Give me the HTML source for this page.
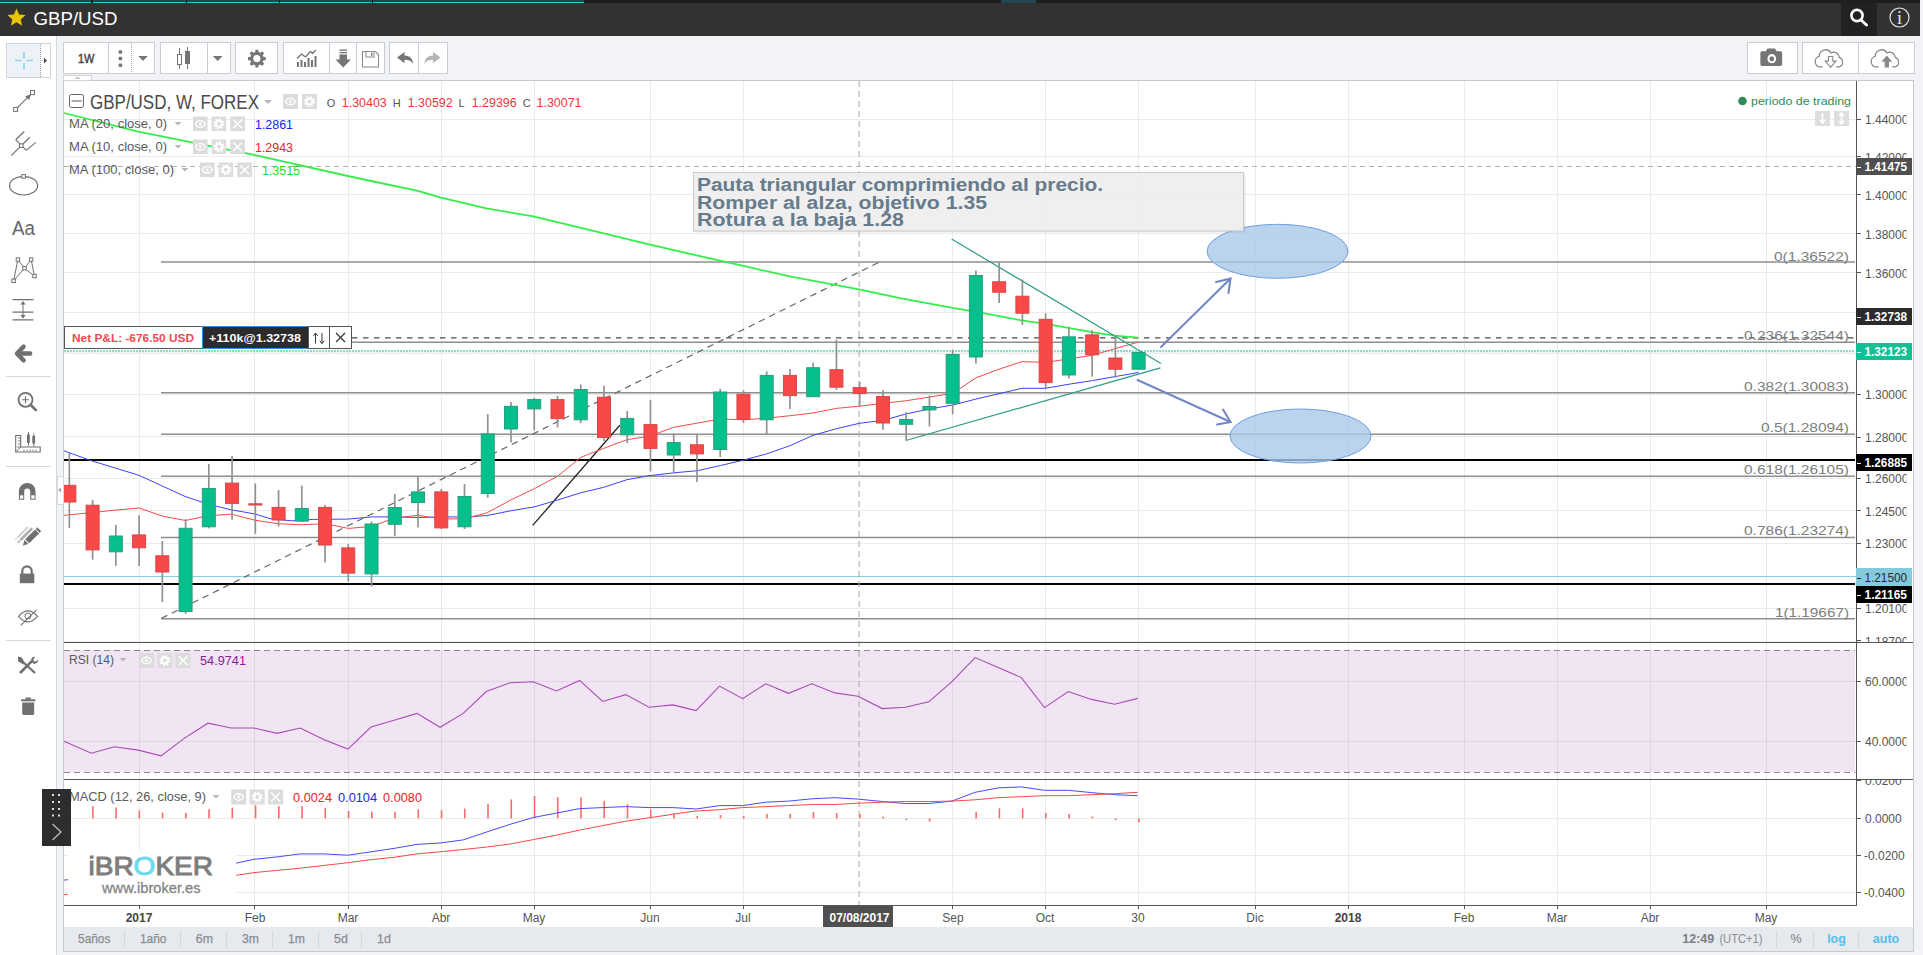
<!DOCTYPE html>
<html lang="es"><head><meta charset="utf-8"><title>GBP/USD</title>
<style>
html,body{margin:0;padding:0;}
body{width:1923px;height:955px;overflow:hidden;background:#f1f3f6;font-family:"Liberation Sans",sans-serif;position:relative;}
#hdr{position:absolute;left:0;top:0;width:1920px;height:36px;background:#323232;}
#hdrtop{position:absolute;left:0;top:0;width:1920px;height:3px;background:#1e1e1e;}
#srch{position:absolute;left:1841px;top:3px;width:36px;height:33px;background:#212121;}
#ltb{position:absolute;left:0;top:36px;width:56px;height:919px;background:#ffffff;border-right:1px solid #d6d9de;}
#frame{position:absolute;left:63px;top:80px;width:1849px;height:870px;background:#ffffff;border:1px solid #c6cad0;}
#bbar{position:absolute;left:64px;top:927px;width:1849px;height:24px;background:#e6e9ed;}
#ov{position:absolute;left:0;top:0;}
svg text{font-family:"Liberation Sans",sans-serif;}
.btn{position:absolute;top:42px;height:30px;background:#fff;border:1px solid #c9ccd1;}
</style></head><body>
<div id="hdr"></div><div id="hdrtop"></div><div id="srch"></div><div id="ltb"></div><div id="frame"></div><div id="bbar"></div>
<div class="btn" style="left:63px;width:90px"></div>
<div class="btn" style="left:160px;width:69px"></div>
<div class="btn" style="left:235px;width:41px"></div>
<div class="btn" style="left:283px;width:100px"></div>
<div class="btn" style="left:389px;width:57px"></div>
<div class="btn" style="left:1747px;width:49px"></div>
<div class="btn" style="left:1802px;width:111px"></div>
<svg id="ov" width="1923" height="955" viewBox="0 0 1923 955">
<rect x="0" y="0" width="91" height="2" fill="#24464e"/>
<rect x="0" y="2" width="91" height="1" fill="#2cc3df"/>
<rect x="93" y="0" width="93" height="2" fill="#24464e"/>
<rect x="93" y="2" width="93" height="1" fill="#2cc3df"/>
<rect x="187" y="0" width="92" height="2" fill="#24464e"/>
<rect x="187" y="2" width="92" height="1" fill="#2cc3df"/>
<rect x="280" y="0" width="92" height="2" fill="#24464e"/>
<rect x="280" y="2" width="92" height="1" fill="#2cc3df"/>
<rect x="373" y="0" width="211" height="2" fill="#24464e"/>
<rect x="373" y="2" width="211" height="1" fill="#2cc3df"/>
<rect x="1001" y="0" width="35" height="3" fill="#24464e"/>
<path d="M16.5 8.5 l2.6 6 6.5 .6 -4.9 4.3 1.5 6.3 -5.7 -3.4 -5.7 3.4 1.5 -6.3 -4.9 -4.3 6.5 -.6z" fill="#e8c500"/>
<text x="33.5" y="25" font-size="18.5" fill="#ffffff" font-weight="normal" text-anchor="start" textLength="84" lengthAdjust="spacingAndGlyphs" >GBP/USD</text>
<circle cx="1857" cy="15.5" r="5.6" fill="none" stroke="#fff" stroke-width="2.6"/><line x1="1861" y1="20" x2="1866.5" y2="25" stroke="#fff" stroke-width="3" stroke-linecap="round"/>
<circle cx="1899.5" cy="17.5" r="9.5" fill="none" stroke="#e0e0e0" stroke-width="1.2"/>
<text x="1899.5" y="24" font-size="18" fill="#e8e8e8" text-anchor="middle" style="font-family:'Liberation Serif',serif">i</text>
<g shape-rendering="crispEdges">
<line x1="139.5" y1="81" x2="139.5" y2="905" stroke="#ebebeb" stroke-width="1" />
<line x1="254.5" y1="81" x2="254.5" y2="905" stroke="#ebebeb" stroke-width="1" />
<line x1="348.5" y1="81" x2="348.5" y2="905" stroke="#ebebeb" stroke-width="1" />
<line x1="441.5" y1="81" x2="441.5" y2="905" stroke="#ebebeb" stroke-width="1" />
<line x1="534.5" y1="81" x2="534.5" y2="905" stroke="#ebebeb" stroke-width="1" />
<line x1="650.5" y1="81" x2="650.5" y2="905" stroke="#ebebeb" stroke-width="1" />
<line x1="743.5" y1="81" x2="743.5" y2="905" stroke="#ebebeb" stroke-width="1" />
<line x1="952.5" y1="81" x2="952.5" y2="905" stroke="#ebebeb" stroke-width="1" />
<line x1="1045.5" y1="81" x2="1045.5" y2="905" stroke="#ebebeb" stroke-width="1" />
<line x1="1138.5" y1="81" x2="1138.5" y2="905" stroke="#ebebeb" stroke-width="1" />
<line x1="1255.5" y1="81" x2="1255.5" y2="905" stroke="#ebebeb" stroke-width="1" />
<line x1="1348.5" y1="81" x2="1348.5" y2="905" stroke="#ebebeb" stroke-width="1" />
<line x1="1464.5" y1="81" x2="1464.5" y2="905" stroke="#ebebeb" stroke-width="1" />
<line x1="1557.5" y1="81" x2="1557.5" y2="905" stroke="#ebebeb" stroke-width="1" />
<line x1="1650.5" y1="81" x2="1650.5" y2="905" stroke="#ebebeb" stroke-width="1" />
<line x1="1766.5" y1="81" x2="1766.5" y2="905" stroke="#ebebeb" stroke-width="1" />
<line x1="64" y1="119.5" x2="1856" y2="119.5" stroke="#ebebeb" stroke-width="1" />
<line x1="64" y1="156.5" x2="1856" y2="156.5" stroke="#ebebeb" stroke-width="1" />
<line x1="64" y1="194.5" x2="1856" y2="194.5" stroke="#ebebeb" stroke-width="1" />
<line x1="64" y1="233.5" x2="1856" y2="233.5" stroke="#ebebeb" stroke-width="1" />
<line x1="64" y1="272.5" x2="1856" y2="272.5" stroke="#ebebeb" stroke-width="1" />
<line x1="64" y1="312.5" x2="1856" y2="312.5" stroke="#ebebeb" stroke-width="1" />
<line x1="64" y1="353.5" x2="1856" y2="353.5" stroke="#ebebeb" stroke-width="1" />
<line x1="64" y1="394.5" x2="1856" y2="394.5" stroke="#ebebeb" stroke-width="1" />
<line x1="64" y1="436.5" x2="1856" y2="436.5" stroke="#ebebeb" stroke-width="1" />
<line x1="64" y1="478.5" x2="1856" y2="478.5" stroke="#ebebeb" stroke-width="1" />
<line x1="64" y1="510.5" x2="1856" y2="510.5" stroke="#ebebeb" stroke-width="1" />
<line x1="64" y1="543.5" x2="1856" y2="543.5" stroke="#ebebeb" stroke-width="1" />
<line x1="64" y1="576.5" x2="1856" y2="576.5" stroke="#ebebeb" stroke-width="1" />
<line x1="64" y1="608.5" x2="1856" y2="608.5" stroke="#ebebeb" stroke-width="1" />
<line x1="64" y1="641.5" x2="1856" y2="641.5" stroke="#ebebeb" stroke-width="1" />
<rect x="64" y="650" width="1791" height="122" fill="#f1e5f3"/>
<line x1="139.5" y1="650" x2="139.5" y2="772" stroke="#e0d3e3" stroke-width="1" />
<line x1="254.5" y1="650" x2="254.5" y2="772" stroke="#e0d3e3" stroke-width="1" />
<line x1="348.5" y1="650" x2="348.5" y2="772" stroke="#e0d3e3" stroke-width="1" />
<line x1="441.5" y1="650" x2="441.5" y2="772" stroke="#e0d3e3" stroke-width="1" />
<line x1="534.5" y1="650" x2="534.5" y2="772" stroke="#e0d3e3" stroke-width="1" />
<line x1="650.5" y1="650" x2="650.5" y2="772" stroke="#e0d3e3" stroke-width="1" />
<line x1="743.5" y1="650" x2="743.5" y2="772" stroke="#e0d3e3" stroke-width="1" />
<line x1="952.5" y1="650" x2="952.5" y2="772" stroke="#e0d3e3" stroke-width="1" />
<line x1="1045.5" y1="650" x2="1045.5" y2="772" stroke="#e0d3e3" stroke-width="1" />
<line x1="1138.5" y1="650" x2="1138.5" y2="772" stroke="#e0d3e3" stroke-width="1" />
<line x1="1255.5" y1="650" x2="1255.5" y2="772" stroke="#e0d3e3" stroke-width="1" />
<line x1="1348.5" y1="650" x2="1348.5" y2="772" stroke="#e0d3e3" stroke-width="1" />
<line x1="1464.5" y1="650" x2="1464.5" y2="772" stroke="#e0d3e3" stroke-width="1" />
<line x1="1557.5" y1="650" x2="1557.5" y2="772" stroke="#e0d3e3" stroke-width="1" />
<line x1="1650.5" y1="650" x2="1650.5" y2="772" stroke="#e0d3e3" stroke-width="1" />
<line x1="1766.5" y1="650" x2="1766.5" y2="772" stroke="#e0d3e3" stroke-width="1" />
<line x1="64" y1="681.5" x2="1856" y2="681.5" stroke="#e0d3e3" stroke-width="1" />
<line x1="64" y1="741.5" x2="1856" y2="741.5" stroke="#e0d3e3" stroke-width="1" />
<line x1="64" y1="818.5" x2="1856" y2="818.5" stroke="#ebebeb" stroke-width="1" />
<line x1="64" y1="855.5" x2="1856" y2="855.5" stroke="#ebebeb" stroke-width="1" />
<line x1="64" y1="892.5" x2="1856" y2="892.5" stroke="#ebebeb" stroke-width="1" />
</g>
<g shape-rendering="crispEdges">
<line x1="64" y1="166.5" x2="1856" y2="166.5" stroke="#b0b0b0" stroke-width="1" stroke-dasharray="5,4"/>
<line x1="161" y1="261.9" x2="1855" y2="261.9" stroke="#8e8e8e" stroke-width="1.5" shape-rendering="auto"/>
<line x1="161" y1="342.3" x2="1855" y2="342.3" stroke="#8e8e8e" stroke-width="1.5" shape-rendering="auto"/>
<line x1="161" y1="392.8" x2="1855" y2="392.8" stroke="#8e8e8e" stroke-width="1.5" shape-rendering="auto"/>
<line x1="161" y1="434.2" x2="1855" y2="434.2" stroke="#8e8e8e" stroke-width="1.5" shape-rendering="auto"/>
<line x1="161" y1="476.3" x2="1855" y2="476.3" stroke="#8e8e8e" stroke-width="1.5" shape-rendering="auto"/>
<line x1="161" y1="537.5" x2="1855" y2="537.5" stroke="#8e8e8e" stroke-width="1.5" shape-rendering="auto"/>
<line x1="161" y1="618.7" x2="1855" y2="618.7" stroke="#8e8e8e" stroke-width="1.5" shape-rendering="auto"/>
<line x1="64" y1="576.5" x2="1856" y2="576.5" stroke="#86cfe0" stroke-width="1" />
<line x1="64" y1="460" x2="1855" y2="460" stroke="#000" stroke-width="2" />
<line x1="64" y1="584" x2="1855" y2="584" stroke="#000" stroke-width="2" />
<line x1="352" y1="337.8" x2="1855" y2="337.8" stroke="#4a4a4a" stroke-width="1.3" stroke-dasharray="5.5,5.5" shape-rendering="auto"/>
<line x1="64" y1="351.2" x2="1855" y2="351.2" stroke="#5fd3b6" stroke-width="2.2" stroke-dasharray="2,1" shape-rendering="auto" opacity="0.75"/>
<line x1="859.1" y1="81" x2="859.1" y2="905" stroke="#b0b0b0" stroke-width="1.1" stroke-dasharray="6,4" shape-rendering="auto"/>
</g>
<line x1="161.5" y1="618.3" x2="879.5" y2="262" stroke="#666" stroke-width="1.2" stroke-dasharray="6.5,5"/>
<line x1="532.7" y1="525.4" x2="619.8" y2="425.2" stroke="#222" stroke-width="1.3"/>
<polyline points="64.0,113.0 138.3,131.7 254.0,154.9 347.9,176.0 371.0,181.0 417.0,190.6 440.0,197.4 486.3,208.3 533.3,216.4 602.7,233.1 649.0,244.3 700.0,256.2 743.4,265.9 791.0,276.7 859.0,289.3 900.0,298.1 952.6,307.9 976.4,311.8 1021.3,320.3 1044.5,323.7 1068.3,327.8 1091.4,332.2 1114.6,335.6 1137.7,337.7" fill="none" stroke="#35ee4a" stroke-width="1.8" stroke-linejoin="round"/>
<polyline points="64.0,450.8 90.0,460.3 139.0,475.3 185.2,496.5 208.7,504.4 231.8,509.9 255.0,514.0 271.0,518.9 291.4,520.8 313.2,519.4 348.3,519.1 371.5,516.9 394.6,516.9 417.7,517.5 440.9,516.9 464.0,517.0 486.9,515.6 511.1,510.7 534.3,506.9 557.4,500.1 580.6,492.8 603.7,487.3 626.9,479.7 650.0,475.6 673.2,472.9 697.4,470.7 720.5,465.5 743.7,460.1 766.8,453.8 790.0,445.7 813.1,435.3 836.2,428.8 859.4,423.3 883.3,420.3 906.5,413.8 929.6,409.0 952.8,405.0 975.8,399.1 999.0,393.7 1022.1,388.3 1045.3,388.3 1069.2,384.2 1092.4,380.6 1115.5,376.5 1138.6,372.5" fill="none" stroke="#4040f5" stroke-width="1" />
<polyline points="64.0,515.3 91.9,512.6 115.3,510.1 139.2,508.0 162.4,516.1 185.5,520.5 208.7,515.6 231.8,514.2 254.9,520.2 278.1,523.7 301.2,524.8 325.2,523.7 348.3,528.4 371.5,526.5 394.6,518.0 417.7,515.3 440.9,518.9 464.0,518.9 486.9,512.9 511.1,499.8 534.3,488.7 557.4,476.4 580.6,457.4 603.7,448.4 626.9,439.7 650.0,436.1 673.2,427.4 697.4,423.1 720.5,419.0 743.7,419.8 766.8,418.2 790.0,415.7 813.1,413.0 836.2,408.4 859.4,406.2 883.3,403.3 906.5,400.7 929.6,397.0 952.8,393.4 975.8,377.9 999.0,369.2 1022.1,361.6 1045.3,362.4 1069.2,358.9 1092.4,355.3 1115.5,348.5 1138.6,342.0" fill="none" stroke="#f54a4a" stroke-width="1" />
<line x1="951.6" y1="239" x2="1161" y2="363.5" stroke="#2e9b84" stroke-width="1.2"/>
<line x1="905.9" y1="440.5" x2="1160.4" y2="367.8" stroke="#2e9b84" stroke-width="1.2"/>
<ellipse cx="1277.5" cy="251.3" rx="70.5" ry="27" fill="#a9c9ea" fill-opacity="0.8" stroke="#6f9fe0" stroke-width="1"/>
<ellipse cx="1300.5" cy="436" rx="70.5" ry="27" fill="#a9c9ea" fill-opacity="0.8" stroke="#6f9fe0" stroke-width="1"/>
<g stroke="#7186c4" stroke-width="2" fill="none" stroke-linecap="round"><line x1="1161" y1="347" x2="1230.5" y2="278.5"/><polyline points="1216,282 1230.5,278.5 1228.5,293"/>
<line x1="1137.5" y1="380" x2="1230.5" y2="422"/><polyline points="1223,409.5 1230.5,422 1217,424.5"/></g>
<clipPath id="mp"><rect x="64" y="81" width="1791" height="561"/></clipPath><g clip-path="url(#mp)">
<line x1="69.35" y1="452.0" x2="69.35" y2="528.0" stroke="#929292" stroke-width="1.7"/>
<rect x="62.85" y="485.3" width="13" height="16.7" fill="#f84848" stroke="#d8474b" stroke-width="1"/>
<line x1="92.60" y1="499.8" x2="92.60" y2="559.7" stroke="#929292" stroke-width="1.7"/>
<rect x="86.10" y="505.2" width="13" height="44.7" fill="#f84848" stroke="#d8474b" stroke-width="1"/>
<line x1="115.84" y1="525.0" x2="115.84" y2="566.0" stroke="#929292" stroke-width="1.7"/>
<rect x="109.34" y="536.0" width="13" height="15.8" fill="#05c08c" stroke="#2a9f7e" stroke-width="1"/>
<line x1="139.09" y1="515.3" x2="139.09" y2="566.0" stroke="#929292" stroke-width="1.7"/>
<rect x="132.59" y="534.9" width="13" height="12.9" fill="#f84848" stroke="#d8474b" stroke-width="1"/>
<line x1="162.33" y1="541.0" x2="162.33" y2="602.0" stroke="#929292" stroke-width="1.7"/>
<rect x="155.83" y="555.8" width="13" height="16.2" fill="#f84848" stroke="#d8474b" stroke-width="1"/>
<line x1="185.58" y1="519.0" x2="185.58" y2="614.0" stroke="#929292" stroke-width="1.7"/>
<rect x="179.08" y="528.3" width="13" height="83.2" fill="#05c08c" stroke="#2a9f7e" stroke-width="1"/>
<line x1="208.82" y1="463.9" x2="208.82" y2="528.4" stroke="#929292" stroke-width="1.7"/>
<rect x="202.32" y="488.5" width="13" height="38.3" fill="#05c08c" stroke="#2a9f7e" stroke-width="1"/>
<line x1="232.07" y1="456.0" x2="232.07" y2="519.7" stroke="#929292" stroke-width="1.7"/>
<rect x="225.57" y="483.1" width="13" height="20.3" fill="#f84848" stroke="#d8474b" stroke-width="1"/>
<line x1="255.31" y1="483.5" x2="255.31" y2="533.8" stroke="#929292" stroke-width="1.7"/>
<rect x="248.81" y="503.8" width="13" height="1.2" fill="#f84848" stroke="#d8474b" stroke-width="1"/>
<line x1="278.56" y1="490.0" x2="278.56" y2="526.5" stroke="#929292" stroke-width="1.7"/>
<rect x="272.06" y="507.4" width="13" height="12.6" fill="#f84848" stroke="#d8474b" stroke-width="1"/>
<line x1="301.80" y1="485.6" x2="301.80" y2="522.0" stroke="#929292" stroke-width="1.7"/>
<rect x="295.30" y="508.5" width="13" height="12.6" fill="#05c08c" stroke="#2a9f7e" stroke-width="1"/>
<line x1="325.05" y1="505.0" x2="325.05" y2="562.4" stroke="#929292" stroke-width="1.7"/>
<rect x="318.55" y="507.4" width="13" height="37.6" fill="#f84848" stroke="#d8474b" stroke-width="1"/>
<line x1="348.29" y1="544.0" x2="348.29" y2="581.5" stroke="#929292" stroke-width="1.7"/>
<rect x="341.79" y="547.9" width="13" height="25.2" fill="#f84848" stroke="#d8474b" stroke-width="1"/>
<line x1="371.53" y1="521.6" x2="371.53" y2="586.4" stroke="#929292" stroke-width="1.7"/>
<rect x="365.03" y="524.0" width="13" height="49.9" fill="#05c08c" stroke="#2a9f7e" stroke-width="1"/>
<line x1="394.78" y1="494.0" x2="394.78" y2="536.0" stroke="#929292" stroke-width="1.7"/>
<rect x="388.28" y="507.5" width="13" height="16.8" fill="#05c08c" stroke="#2a9f7e" stroke-width="1"/>
<line x1="418.02" y1="476.6" x2="418.02" y2="527.6" stroke="#929292" stroke-width="1.7"/>
<rect x="411.52" y="491.9" width="13" height="10.6" fill="#05c08c" stroke="#2a9f7e" stroke-width="1"/>
<line x1="441.27" y1="489.0" x2="441.27" y2="529.0" stroke="#929292" stroke-width="1.7"/>
<rect x="434.77" y="491.9" width="13" height="36.0" fill="#f84848" stroke="#d8474b" stroke-width="1"/>
<line x1="464.51" y1="484.0" x2="464.51" y2="529.0" stroke="#929292" stroke-width="1.7"/>
<rect x="458.01" y="496.5" width="13" height="30.3" fill="#05c08c" stroke="#2a9f7e" stroke-width="1"/>
<line x1="487.76" y1="414.0" x2="487.76" y2="497.6" stroke="#929292" stroke-width="1.7"/>
<rect x="481.26" y="433.9" width="13" height="59.6" fill="#05c08c" stroke="#2a9f7e" stroke-width="1"/>
<line x1="511.00" y1="402.0" x2="511.00" y2="442.5" stroke="#929292" stroke-width="1.7"/>
<rect x="504.50" y="406.3" width="13" height="22.7" fill="#05c08c" stroke="#2a9f7e" stroke-width="1"/>
<line x1="534.25" y1="397.6" x2="534.25" y2="430.4" stroke="#929292" stroke-width="1.7"/>
<rect x="527.75" y="399.5" width="13" height="9.4" fill="#05c08c" stroke="#2a9f7e" stroke-width="1"/>
<line x1="557.50" y1="395.8" x2="557.50" y2="427.4" stroke="#929292" stroke-width="1.7"/>
<rect x="551.00" y="399.6" width="13" height="19.1" fill="#f84848" stroke="#d8474b" stroke-width="1"/>
<line x1="580.74" y1="384.4" x2="580.74" y2="423.0" stroke="#929292" stroke-width="1.7"/>
<rect x="574.24" y="389.5" width="13" height="30.3" fill="#05c08c" stroke="#2a9f7e" stroke-width="1"/>
<line x1="603.99" y1="385.8" x2="603.99" y2="441.0" stroke="#929292" stroke-width="1.7"/>
<rect x="597.49" y="397.2" width="13" height="40.3" fill="#f84848" stroke="#d8474b" stroke-width="1"/>
<line x1="627.23" y1="411.0" x2="627.23" y2="443.0" stroke="#929292" stroke-width="1.7"/>
<rect x="620.73" y="418.4" width="13" height="16.4" fill="#05c08c" stroke="#2a9f7e" stroke-width="1"/>
<line x1="650.48" y1="400.2" x2="650.48" y2="471.5" stroke="#929292" stroke-width="1.7"/>
<rect x="643.98" y="424.6" width="13" height="23.8" fill="#f84848" stroke="#d8474b" stroke-width="1"/>
<line x1="673.72" y1="433.4" x2="673.72" y2="472.3" stroke="#929292" stroke-width="1.7"/>
<rect x="667.22" y="442.6" width="13" height="12.4" fill="#05c08c" stroke="#2a9f7e" stroke-width="1"/>
<line x1="696.97" y1="434.8" x2="696.97" y2="481.9" stroke="#929292" stroke-width="1.7"/>
<rect x="690.47" y="444.8" width="13" height="9.1" fill="#f84848" stroke="#d8474b" stroke-width="1"/>
<line x1="720.21" y1="388.8" x2="720.21" y2="457.0" stroke="#929292" stroke-width="1.7"/>
<rect x="713.71" y="392.0" width="13" height="57.5" fill="#05c08c" stroke="#2a9f7e" stroke-width="1"/>
<line x1="743.46" y1="390.4" x2="743.46" y2="423.0" stroke="#929292" stroke-width="1.7"/>
<rect x="736.96" y="394.2" width="13" height="25.1" fill="#f84848" stroke="#d8474b" stroke-width="1"/>
<line x1="766.70" y1="371.3" x2="766.70" y2="434.0" stroke="#929292" stroke-width="1.7"/>
<rect x="760.20" y="375.4" width="13" height="44.4" fill="#05c08c" stroke="#2a9f7e" stroke-width="1"/>
<line x1="789.95" y1="368.9" x2="789.95" y2="408.9" stroke="#929292" stroke-width="1.7"/>
<rect x="783.45" y="375.4" width="13" height="20.2" fill="#f84848" stroke="#d8474b" stroke-width="1"/>
<line x1="813.19" y1="362.6" x2="813.19" y2="397.2" stroke="#929292" stroke-width="1.7"/>
<rect x="806.69" y="367.7" width="13" height="29.0" fill="#05c08c" stroke="#2a9f7e" stroke-width="1"/>
<line x1="836.44" y1="339.5" x2="836.44" y2="389.8" stroke="#929292" stroke-width="1.7"/>
<rect x="829.94" y="369.7" width="13" height="17.5" fill="#f84848" stroke="#d8474b" stroke-width="1"/>
<line x1="859.68" y1="381.7" x2="859.68" y2="406.7" stroke="#929292" stroke-width="1.7"/>
<rect x="853.18" y="387.6" width="13" height="5.8" fill="#f84848" stroke="#d8474b" stroke-width="1"/>
<line x1="882.93" y1="390.0" x2="882.93" y2="429.8" stroke="#929292" stroke-width="1.7"/>
<rect x="876.43" y="396.5" width="13" height="26.5" fill="#f84848" stroke="#d8474b" stroke-width="1"/>
<line x1="906.17" y1="412.2" x2="906.17" y2="440.6" stroke="#929292" stroke-width="1.7"/>
<rect x="899.67" y="419.5" width="13" height="4.8" fill="#05c08c" stroke="#2a9f7e" stroke-width="1"/>
<line x1="929.42" y1="395.4" x2="929.42" y2="426.5" stroke="#929292" stroke-width="1.7"/>
<rect x="922.92" y="406.5" width="13" height="3.4" fill="#05c08c" stroke="#2a9f7e" stroke-width="1"/>
<line x1="952.66" y1="349.8" x2="952.66" y2="414.3" stroke="#929292" stroke-width="1.7"/>
<rect x="946.16" y="354.5" width="13" height="48.8" fill="#05c08c" stroke="#2a9f7e" stroke-width="1"/>
<line x1="975.91" y1="270.4" x2="975.91" y2="363.5" stroke="#929292" stroke-width="1.7"/>
<rect x="969.41" y="275.5" width="13" height="81.5" fill="#05c08c" stroke="#2a9f7e" stroke-width="1"/>
<line x1="999.15" y1="262.2" x2="999.15" y2="303.0" stroke="#929292" stroke-width="1.7"/>
<rect x="992.65" y="281.8" width="13" height="10.4" fill="#f84848" stroke="#d8474b" stroke-width="1"/>
<line x1="1022.40" y1="279.4" x2="1022.40" y2="324.8" stroke="#929292" stroke-width="1.7"/>
<rect x="1015.90" y="296.2" width="13" height="17.0" fill="#f84848" stroke="#d8474b" stroke-width="1"/>
<line x1="1045.64" y1="313.4" x2="1045.64" y2="388.3" stroke="#929292" stroke-width="1.7"/>
<rect x="1039.14" y="319.3" width="13" height="63.3" fill="#f84848" stroke="#d8474b" stroke-width="1"/>
<line x1="1068.89" y1="326.7" x2="1068.89" y2="378.5" stroke="#929292" stroke-width="1.7"/>
<rect x="1062.39" y="336.8" width="13" height="38.2" fill="#05c08c" stroke="#2a9f7e" stroke-width="1"/>
<line x1="1092.13" y1="330.3" x2="1092.13" y2="376.6" stroke="#929292" stroke-width="1.7"/>
<rect x="1085.63" y="334.9" width="13" height="19.9" fill="#f84848" stroke="#d8474b" stroke-width="1"/>
<line x1="1115.38" y1="337.1" x2="1115.38" y2="377.9" stroke="#929292" stroke-width="1.7"/>
<rect x="1108.88" y="358.0" width="13" height="11.2" fill="#f84848" stroke="#d8474b" stroke-width="1"/>
<line x1="1138.62" y1="352.0" x2="1138.62" y2="369.7" stroke="#929292" stroke-width="1.7"/>
<rect x="1132.12" y="352.5" width="13" height="16.7" fill="#05c08c" stroke="#2a9f7e" stroke-width="1"/>
</g>
<rect x="694.5" y="174.5" width="551" height="58" fill="#000" fill-opacity="0.08"/>
<rect x="693.5" y="172.5" width="550" height="58.5" fill="#efefef" fill-opacity="0.93" stroke="#c9c9c9" stroke-width="1"/>
<text x="697" y="191" font-size="18" fill="#667b8c" font-weight="bold" text-anchor="start" textLength="406" lengthAdjust="spacingAndGlyphs" >Pauta triangular comprimiendo al precio.</text>
<text x="697" y="209" font-size="18" fill="#667b8c" font-weight="bold" text-anchor="start" textLength="290" lengthAdjust="spacingAndGlyphs" >Romper al alza, objetivo 1.35</text>
<text x="697" y="226" font-size="18" fill="#667b8c" font-weight="bold" text-anchor="start" textLength="207" lengthAdjust="spacingAndGlyphs" >Rotura a la baja 1.28</text>
<text x="1774" y="260.6" font-size="13.5" fill="#7d7d7d" font-weight="normal" text-anchor="start" textLength="75" lengthAdjust="spacingAndGlyphs" >0(1.36522)</text>
<text x="1744" y="339.6" font-size="13.5" fill="#7d7d7d" font-weight="normal" text-anchor="start" textLength="105" lengthAdjust="spacingAndGlyphs" >0.236(1.32544)</text>
<text x="1744" y="390.6" font-size="13.5" fill="#7d7d7d" font-weight="normal" text-anchor="start" textLength="105" lengthAdjust="spacingAndGlyphs" >0.382(1.30083)</text>
<text x="1761" y="431.6" font-size="13.5" fill="#7d7d7d" font-weight="normal" text-anchor="start" textLength="88" lengthAdjust="spacingAndGlyphs" >0.5(1.28094)</text>
<text x="1744" y="473.6" font-size="13.5" fill="#7d7d7d" font-weight="normal" text-anchor="start" textLength="105" lengthAdjust="spacingAndGlyphs" >0.618(1.26105)</text>
<text x="1744" y="534.6" font-size="13.5" fill="#7d7d7d" font-weight="normal" text-anchor="start" textLength="105" lengthAdjust="spacingAndGlyphs" >0.786(1.23274)</text>
<text x="1775" y="616.6" font-size="13.5" fill="#7d7d7d" font-weight="normal" text-anchor="start" textLength="74" lengthAdjust="spacingAndGlyphs" >1(1.19667)</text>
<g shape-rendering="crispEdges">
<rect x="64.5" y="326.5" width="138" height="22" fill="#fff" stroke="#555" stroke-width="1"/>
<rect x="202" y="326" width="106" height="23" fill="#2b2b2b"/>
<rect x="202" y="326" width="106" height="1" fill="#3b8fd6"/><rect x="202" y="348" width="106" height="1" fill="#3b8fd6"/><rect x="202" y="326" width="1" height="23" fill="#3b8fd6"/>
<rect x="308.5" y="326.5" width="21" height="22" fill="#fff" stroke="#555" stroke-width="1"/>
<rect x="329.5" y="326.5" width="22" height="22" fill="#fff" stroke="#555" stroke-width="1"/>
</g>
<text x="72" y="342" font-size="10.5" fill="#f04a4a" font-weight="bold" text-anchor="start" textLength="122" lengthAdjust="spacingAndGlyphs" >Net P&amp;L: -676.50 USD</text>
<text x="209" y="342" font-size="10.5" fill="#fff" font-weight="bold" text-anchor="start" textLength="92" lengthAdjust="spacingAndGlyphs" >+110k@1.32738</text>
<g stroke="#333" stroke-width="1.2" fill="none"><path d="M315.500 343.500v-10.500m-2.200 2.800l2.200 -2.800 2.200 2.800M322 333v10.500m-2.200 -2.800l2.200 2.800 2.200 -2.800" stroke-width="1"/><path d="M336 333l9 9m0 -9l-9 9"/></g>
<rect x="69.5" y="94.5" width="14" height="13" rx="2" fill="#fff" stroke="#666" stroke-width="1"/><line x1="71.500" y1="101" x2="82" y2="101" stroke="#9a9a9a" stroke-width="1.600"/>
<text x="90" y="108.7" font-size="19.6" fill="#4a4a4a" font-weight="normal" text-anchor="start" textLength="169" lengthAdjust="spacingAndGlyphs" >GBP/USD, W, FOREX</text>
<path d="M264.0 100 h8 l-4.0 4z" fill="#b8b8b8"/>
<rect x="283" y="94" width="15" height="15" fill="#dcdcdc"/><ellipse cx="290.5" cy="101.5" rx="4.6" ry="3.2" fill="none" stroke="#fff" stroke-width="1.4"/><circle cx="290.5" cy="101.5" r="1.4" fill="#fff"/>
<rect x="302" y="94" width="15" height="15" fill="#dcdcdc"/><circle cx="309.5" cy="101.5" r="3" fill="none" stroke="#fff" stroke-width="2"/><circle cx="309.5" cy="101.5" r="4.6" fill="none" stroke="#fff" stroke-width="2" stroke-dasharray="1.8,1.8"/>
<text x="326.8" y="106.5" font-size="11" fill="#555" font-weight="normal" text-anchor="start" >O</text>
<text x="341.8" y="106.5" font-size="12" fill="#f0353b" font-weight="normal" text-anchor="start" textLength="45" lengthAdjust="spacingAndGlyphs" >1.30403</text>
<text x="392.7" y="106.5" font-size="11" fill="#555" font-weight="normal" text-anchor="start" >H</text>
<text x="407.7" y="106.5" font-size="12" fill="#f0353b" font-weight="normal" text-anchor="start" textLength="45" lengthAdjust="spacingAndGlyphs" >1.30592</text>
<text x="458.6" y="106.5" font-size="11" fill="#555" font-weight="normal" text-anchor="start" >L</text>
<text x="471.7" y="106.5" font-size="12" fill="#f0353b" font-weight="normal" text-anchor="start" textLength="45" lengthAdjust="spacingAndGlyphs" >1.29396</text>
<text x="522.8" y="106.5" font-size="11" fill="#555" font-weight="normal" text-anchor="start" >C</text>
<text x="536.5" y="106.5" font-size="12" fill="#f0353b" font-weight="normal" text-anchor="start" textLength="45" lengthAdjust="spacingAndGlyphs" >1.30071</text>
<text x="69" y="128" font-size="12.5" fill="#5a5a5a" font-weight="normal" text-anchor="start" textLength="98" lengthAdjust="spacingAndGlyphs" >MA (20, close, 0)</text>
<path d="M174.5 122 h7 l-3.5 3.5z" fill="#b8b8b8"/>
<rect x="193" y="116.5" width="14.6" height="14.6" fill="#dcdcdc"/><ellipse cx="200.3" cy="123.8" rx="4.6" ry="3.2" fill="none" stroke="#fff" stroke-width="1.4"/><circle cx="200.3" cy="123.8" r="1.4" fill="#fff"/>
<rect x="211.6" y="116.5" width="14.6" height="14.6" fill="#dcdcdc"/><circle cx="218.9" cy="123.8" r="3" fill="none" stroke="#fff" stroke-width="2"/><circle cx="218.9" cy="123.8" r="4.6" fill="none" stroke="#fff" stroke-width="2" stroke-dasharray="1.8,1.8"/>
<rect x="230.3" y="116.5" width="14.6" height="14.6" fill="#dcdcdc"/><path d="M233.3 119.5l8.6 8.6m0 -8.6l-8.6 8.6" stroke="#fff" stroke-width="1.5" fill="none"/>
<text x="255" y="129" font-size="12.5" fill="#2222ee" font-weight="normal" text-anchor="start" textLength="38" lengthAdjust="spacingAndGlyphs" >1.2861</text>
<text x="69" y="151" font-size="12.5" fill="#5a5a5a" font-weight="normal" text-anchor="start" textLength="98" lengthAdjust="spacingAndGlyphs" >MA (10, close, 0)</text>
<path d="M174.5 145 h7 l-3.5 3.5z" fill="#b8b8b8"/>
<rect x="193" y="139.5" width="14.6" height="14.6" fill="#dcdcdc"/><ellipse cx="200.3" cy="146.8" rx="4.6" ry="3.2" fill="none" stroke="#fff" stroke-width="1.4"/><circle cx="200.3" cy="146.8" r="1.4" fill="#fff"/>
<rect x="211.6" y="139.5" width="14.6" height="14.6" fill="#dcdcdc"/><circle cx="218.9" cy="146.8" r="3" fill="none" stroke="#fff" stroke-width="2"/><circle cx="218.9" cy="146.8" r="4.6" fill="none" stroke="#fff" stroke-width="2" stroke-dasharray="1.8,1.8"/>
<rect x="230.3" y="139.5" width="14.6" height="14.6" fill="#dcdcdc"/><path d="M233.3 142.5l8.6 8.6m0 -8.6l-8.6 8.6" stroke="#fff" stroke-width="1.5" fill="none"/>
<text x="255" y="152" font-size="12.5" fill="#ee2222" font-weight="normal" text-anchor="start" textLength="38" lengthAdjust="spacingAndGlyphs" >1.2943</text>
<text x="69" y="174" font-size="12.5" fill="#5a5a5a" font-weight="normal" text-anchor="start" textLength="105" lengthAdjust="spacingAndGlyphs" >MA (100, close, 0)</text>
<path d="M181.5 168 h7 l-3.5 3.5z" fill="#b8b8b8"/>
<rect x="200" y="162.5" width="14.6" height="14.6" fill="#dcdcdc"/><ellipse cx="207.3" cy="169.8" rx="4.6" ry="3.2" fill="none" stroke="#fff" stroke-width="1.4"/><circle cx="207.3" cy="169.8" r="1.4" fill="#fff"/>
<rect x="218.6" y="162.5" width="14.6" height="14.6" fill="#dcdcdc"/><circle cx="225.9" cy="169.8" r="3" fill="none" stroke="#fff" stroke-width="2"/><circle cx="225.9" cy="169.8" r="4.6" fill="none" stroke="#fff" stroke-width="2" stroke-dasharray="1.8,1.8"/>
<rect x="237.3" y="162.5" width="14.6" height="14.6" fill="#dcdcdc"/><path d="M240.3 165.5l8.6 8.6m0 -8.6l-8.6 8.6" stroke="#fff" stroke-width="1.5" fill="none"/>
<text x="262" y="175" font-size="12.5" fill="#22dd22" font-weight="normal" text-anchor="start" textLength="38" lengthAdjust="spacingAndGlyphs" >1.3515</text>
<circle cx="1742.5" cy="101" r="4.3" fill="#2e8b57"/>
<text x="1751" y="105" font-size="11.5" fill="#2e8b57" font-weight="normal" text-anchor="start" textLength="100" lengthAdjust="spacingAndGlyphs" >periodo de trading</text>
<rect x="1815" y="111" width="15" height="15" fill="#dedede"/><rect x="1834" y="111" width="15" height="15" fill="#dedede"/>
<g stroke="#fff" stroke-width="1.6" fill="none"><path d="M1822.5 113v10m-2.5 -3l2.5 3 2.5 -3"/><path d="M1841.5 113v11m-2.5 -8l2.5 -3 2.5 3m-5 5l2.5 3 2.5 -3"/></g>
<g shape-rendering="crispEdges">
<line x1="64" y1="650.5" x2="1855" y2="650.5" stroke="#8a8a8a" stroke-width="1" stroke-dasharray="6,4"/>
<line x1="64" y1="772.5" x2="1855" y2="772.5" stroke="#8a8a8a" stroke-width="1" stroke-dasharray="6,4"/>
</g>
<polyline points="64.0,741.3 91.3,753.2 114.4,746.7 138.3,750.1 161.0,755.9 184.9,737.9 208.0,723.2 231.1,728.0 253.9,728.0 277.1,733.4 300.2,728.0 323.7,739.6 347.9,749.1 371.0,727.0 394.1,720.2 416.9,713.4 440.1,727.3 463.2,713.4 486.3,691.6 510.2,682.7 533.3,681.7 556.4,690.9 579.6,680.4 602.7,701.5 625.8,694.6 649.0,707.2 672.9,704.9 696.1,710.6 719.5,686.1 742.7,698.7 765.8,683.8 788.6,693.3 811.8,683.8 834.9,692.9 858.0,696.3 882.2,708.6 905.3,707.2 928.8,701.8 951.9,681.7 975.1,657.6 998.2,667.4 1021.3,677.6 1044.5,707.6 1068.3,691.6 1091.4,699.4 1114.6,704.2 1137.7,698.4" fill="none" stroke="#a64db3" stroke-width="1.1" />
<text x="69" y="664" font-size="12.5" fill="#5a5a5a" font-weight="normal" text-anchor="start" textLength="45" lengthAdjust="spacingAndGlyphs" >RSI (14)</text>
<path d="M119.5 658 h7 l-3.5 3.5z" fill="#b8b8b8"/>
<rect x="139" y="653" width="15" height="15" fill="#dcdcdc"/><ellipse cx="146.5" cy="660.5" rx="4.6" ry="3.2" fill="none" stroke="#fff" stroke-width="1.4"/><circle cx="146.5" cy="660.5" r="1.4" fill="#fff"/>
<rect x="157.3" y="653" width="15" height="15" fill="#dcdcdc"/><circle cx="164.8" cy="660.5" r="3" fill="none" stroke="#fff" stroke-width="2"/><circle cx="164.8" cy="660.5" r="4.6" fill="none" stroke="#fff" stroke-width="2" stroke-dasharray="1.8,1.8"/>
<rect x="175.6" y="653" width="15" height="15" fill="#dcdcdc"/><path d="M178.6 656l9 9m0 -9l-9 9" stroke="#fff" stroke-width="1.5" fill="none"/>
<text x="200" y="665" font-size="12.5" fill="#8b1a9b" font-weight="normal" text-anchor="start" textLength="46" lengthAdjust="spacingAndGlyphs" >54.9741</text>
<g shape-rendering="crispEdges">
<line x1="92.85" y1="806.3" x2="92.85" y2="818.4" stroke="#f96a6a" stroke-width="1.6" shape-rendering="auto"/>
<line x1="116.09" y1="807.6" x2="116.09" y2="818.4" stroke="#f96a6a" stroke-width="1.6" shape-rendering="auto"/>
<line x1="139.34" y1="810.3" x2="139.34" y2="818.4" stroke="#f96a6a" stroke-width="1.6" shape-rendering="auto"/>
<line x1="162.58" y1="812.7" x2="162.58" y2="818.4" stroke="#f96a6a" stroke-width="1.6" shape-rendering="auto"/>
<line x1="185.83" y1="812.7" x2="185.83" y2="818.4" stroke="#f96a6a" stroke-width="1.6" shape-rendering="auto"/>
<line x1="209.07" y1="809.3" x2="209.07" y2="818.4" stroke="#f96a6a" stroke-width="1.6" shape-rendering="auto"/>
<line x1="232.32" y1="807.6" x2="232.32" y2="818.4" stroke="#f96a6a" stroke-width="1.6" shape-rendering="auto"/>
<line x1="255.56" y1="805.2" x2="255.56" y2="818.4" stroke="#f96a6a" stroke-width="1.6" shape-rendering="auto"/>
<line x1="278.81" y1="806.3" x2="278.81" y2="818.4" stroke="#f96a6a" stroke-width="1.6" shape-rendering="auto"/>
<line x1="302.05" y1="806.3" x2="302.05" y2="818.4" stroke="#f96a6a" stroke-width="1.6" shape-rendering="auto"/>
<line x1="325.30" y1="808.0" x2="325.30" y2="818.4" stroke="#f96a6a" stroke-width="1.6" shape-rendering="auto"/>
<line x1="348.54" y1="811.0" x2="348.54" y2="818.4" stroke="#f96a6a" stroke-width="1.6" shape-rendering="auto"/>
<line x1="371.78" y1="811.7" x2="371.78" y2="818.4" stroke="#f96a6a" stroke-width="1.6" shape-rendering="auto"/>
<line x1="395.03" y1="811.7" x2="395.03" y2="818.4" stroke="#f96a6a" stroke-width="1.6" shape-rendering="auto"/>
<line x1="418.27" y1="809.3" x2="418.27" y2="818.4" stroke="#f96a6a" stroke-width="1.6" shape-rendering="auto"/>
<line x1="441.52" y1="810.3" x2="441.52" y2="818.4" stroke="#f96a6a" stroke-width="1.6" shape-rendering="auto"/>
<line x1="464.76" y1="808.6" x2="464.76" y2="818.4" stroke="#f96a6a" stroke-width="1.6" shape-rendering="auto"/>
<line x1="488.01" y1="803.9" x2="488.01" y2="818.4" stroke="#f96a6a" stroke-width="1.6" shape-rendering="auto"/>
<line x1="511.25" y1="799.4" x2="511.25" y2="818.4" stroke="#f96a6a" stroke-width="1.6" shape-rendering="auto"/>
<line x1="534.50" y1="796.0" x2="534.50" y2="818.4" stroke="#f96a6a" stroke-width="1.6" shape-rendering="auto"/>
<line x1="557.75" y1="797.1" x2="557.75" y2="818.4" stroke="#f96a6a" stroke-width="1.6" shape-rendering="auto"/>
<line x1="580.99" y1="797.4" x2="580.99" y2="818.4" stroke="#f96a6a" stroke-width="1.6" shape-rendering="auto"/>
<line x1="604.24" y1="800.8" x2="604.24" y2="818.4" stroke="#f96a6a" stroke-width="1.6" shape-rendering="auto"/>
<line x1="627.48" y1="804.2" x2="627.48" y2="818.4" stroke="#f96a6a" stroke-width="1.6" shape-rendering="auto"/>
<line x1="650.73" y1="809.3" x2="650.73" y2="818.4" stroke="#f96a6a" stroke-width="1.6" shape-rendering="auto"/>
<line x1="673.97" y1="813.7" x2="673.97" y2="818.4" stroke="#f96a6a" stroke-width="1.6" shape-rendering="auto"/>
<line x1="697.22" y1="816.1" x2="697.22" y2="818.4" stroke="#f96a6a" stroke-width="1.6" shape-rendering="auto"/>
<line x1="720.46" y1="815.1" x2="720.46" y2="818.4" stroke="#f96a6a" stroke-width="1.6" shape-rendering="auto"/>
<line x1="743.71" y1="816.1" x2="743.71" y2="818.4" stroke="#f96a6a" stroke-width="1.6" shape-rendering="auto"/>
<line x1="766.95" y1="814.1" x2="766.95" y2="818.4" stroke="#f96a6a" stroke-width="1.6" shape-rendering="auto"/>
<line x1="790.20" y1="814.1" x2="790.20" y2="818.4" stroke="#f96a6a" stroke-width="1.6" shape-rendering="auto"/>
<line x1="813.44" y1="812.0" x2="813.44" y2="818.4" stroke="#f96a6a" stroke-width="1.6" shape-rendering="auto"/>
<line x1="836.69" y1="813.1" x2="836.69" y2="818.4" stroke="#f96a6a" stroke-width="1.6" shape-rendering="auto"/>
<line x1="859.93" y1="814.1" x2="859.93" y2="818.4" stroke="#f96a6a" stroke-width="1.6" shape-rendering="auto"/>
<line x1="883.18" y1="816.8" x2="883.18" y2="818.4" stroke="#f96a6a" stroke-width="1.6" shape-rendering="auto"/>
<line x1="906.42" y1="818.4" x2="906.42" y2="820.2" stroke="#f96a6a" stroke-width="1.6" shape-rendering="auto"/>
<line x1="929.67" y1="818.4" x2="929.67" y2="821.6" stroke="#f96a6a" stroke-width="1.6" shape-rendering="auto"/>
<line x1="976.16" y1="812.0" x2="976.16" y2="818.4" stroke="#f96a6a" stroke-width="1.6" shape-rendering="auto"/>
<line x1="999.40" y1="808.3" x2="999.40" y2="818.4" stroke="#f96a6a" stroke-width="1.6" shape-rendering="auto"/>
<line x1="1022.65" y1="808.3" x2="1022.65" y2="818.4" stroke="#f96a6a" stroke-width="1.6" shape-rendering="auto"/>
<line x1="1045.89" y1="813.1" x2="1045.89" y2="818.4" stroke="#f96a6a" stroke-width="1.6" shape-rendering="auto"/>
<line x1="1069.14" y1="814.1" x2="1069.14" y2="818.4" stroke="#f96a6a" stroke-width="1.6" shape-rendering="auto"/>
<line x1="1092.38" y1="816.5" x2="1092.38" y2="818.4" stroke="#f96a6a" stroke-width="1.6" shape-rendering="auto"/>
<line x1="1115.63" y1="818.4" x2="1115.63" y2="820.2" stroke="#f96a6a" stroke-width="1.6" shape-rendering="auto"/>
<line x1="1138.87" y1="818.4" x2="1138.87" y2="822.6" stroke="#f96a6a" stroke-width="1.6" shape-rendering="auto"/>
</g>
<polyline points="64.1,880.1 114.4,875.0 162.1,870.2 236.3,863.1 253.9,859.3 277.1,856.9 300.2,853.9 323.7,853.9 347.9,855.2 371.0,851.8 394.1,848.4 416.9,844.4 440.1,843.0 463.2,839.9 486.3,832.1 510.2,824.3 533.3,817.5 556.4,813.1 579.6,808.6 602.7,807.6 625.8,806.6 649.0,807.6 672.1,807.6 672.9,807.6 696.1,809.0 719.5,805.6 742.7,805.6 765.8,802.2 788.6,801.1 811.8,798.8 834.9,797.7 858.0,799.1 882.2,801.5 905.3,803.5 928.8,803.5 951.9,801.1 975.1,792.3 998.2,787.9 1021.3,786.9 1044.5,790.3 1068.3,790.3 1091.4,792.6 1114.6,794.7 1137.7,795.7" fill="none" stroke="#4a4af5" stroke-width="1" />
<polyline points="64.1,894.7 114.4,889.3 162.1,883.8 236.3,875.3 253.9,872.6 300.2,868.2 347.9,862.7 371.0,859.7 394.1,857.3 416.9,853.9 440.1,851.8 463.2,849.5 486.3,847.1 510.2,844.0 533.3,839.6 556.4,835.2 579.6,830.1 602.7,825.6 625.8,821.2 649.0,817.8 672.1,814.4 672.9,814.1 696.1,811.0 719.5,809.7 742.7,807.6 765.8,806.6 788.6,805.6 811.8,804.5 834.9,804.5 858.0,803.2 882.2,802.2 905.3,801.5 928.8,801.5 951.9,801.1 975.1,799.8 998.2,797.7 1021.3,796.7 1044.5,795.7 1068.3,795.7 1091.4,794.7 1114.6,793.7 1137.7,792.3" fill="none" stroke="#f54a4a" stroke-width="1" />
<text x="69" y="801" font-size="12.5" fill="#5a5a5a" font-weight="normal" text-anchor="start" textLength="137" lengthAdjust="spacingAndGlyphs" >MACD (12, 26, close, 9)</text>
<path d="M212.5 795 h7 l-3.5 3.5z" fill="#b8b8b8"/>
<rect x="231.2" y="789.5" width="15" height="15" fill="#dcdcdc"/><ellipse cx="238.7" cy="797.0" rx="4.6" ry="3.2" fill="none" stroke="#fff" stroke-width="1.4"/><circle cx="238.7" cy="797.0" r="1.4" fill="#fff"/>
<rect x="249.7" y="789.5" width="15" height="15" fill="#dcdcdc"/><circle cx="257.2" cy="797.0" r="3" fill="none" stroke="#fff" stroke-width="2"/><circle cx="257.2" cy="797.0" r="4.6" fill="none" stroke="#fff" stroke-width="2" stroke-dasharray="1.8,1.8"/>
<rect x="268.1" y="789.5" width="15" height="15" fill="#dcdcdc"/><path d="M271.1 792.5l9 9m0 -9l-9 9" stroke="#fff" stroke-width="1.5" fill="none"/>
<text x="293" y="802" font-size="12.5" fill="#ee2222" font-weight="normal" text-anchor="start" textLength="39" lengthAdjust="spacingAndGlyphs" >0.0024</text>
<text x="338" y="802" font-size="12.5" fill="#2222ee" font-weight="normal" text-anchor="start" textLength="39" lengthAdjust="spacingAndGlyphs" >0.0104</text>
<text x="383" y="802" font-size="12.5" fill="#ee2222" font-weight="normal" text-anchor="start" textLength="39" lengthAdjust="spacingAndGlyphs" >0.0080</text>
<rect x="68" y="851" width="168" height="53" fill="#fff"/>
<text x="88.5" y="874.5" font-size="26.5" fill="#7d7d7d" stroke="#7d7d7d" stroke-width="1" textLength="124.5" lengthAdjust="spacingAndGlyphs">iBR<tspan fill="#6fd9f1" stroke="#6fd9f1">O</tspan>KER</text>
<text x="102" y="893" font-size="14.5" fill="#858585" font-weight="normal" text-anchor="start" textLength="98.5" lengthAdjust="spacingAndGlyphs" stroke="#858585" stroke-width="0.3">www.ibroker.es</text>
<rect x="42" y="789" width="29" height="57" fill="#2d2d2d"/>
<rect x="52" y="794" width="2" height="2" fill="#ddd"/>
<rect x="58" y="794" width="2" height="2" fill="#ddd"/>
<rect x="52" y="801" width="2" height="2" fill="#ddd"/>
<rect x="58" y="801" width="2" height="2" fill="#ddd"/>
<rect x="52" y="808" width="2" height="2" fill="#ddd"/>
<rect x="58" y="808" width="2" height="2" fill="#ddd"/>
<rect x="52" y="814.5" width="2" height="2" fill="#ddd"/>
<rect x="58" y="814.5" width="2" height="2" fill="#ddd"/>
<polyline points="52.5,824 61,832 52.5,840" fill="none" stroke="#bbb" stroke-width="1.3"/>
<g shape-rendering="crispEdges">
<line x1="64" y1="642.5" x2="1913" y2="642.5" stroke="#555555" stroke-width="1" />
<line x1="64" y1="779.5" x2="1913" y2="779.5" stroke="#555555" stroke-width="1" />
<line x1="64" y1="905.5" x2="1857" y2="905.5" stroke="#555555" stroke-width="1" />
<line x1="1856.5" y1="81" x2="1856.5" y2="906" stroke="#555555" stroke-width="1" />
</g>
<clipPath id="pc1"><rect x="1857" y="81" width="49.5" height="561"/></clipPath><clipPath id="pc2"><rect x="1857" y="643" width="49.5" height="136"/></clipPath><clipPath id="pc3"><rect x="1857" y="780" width="49.5" height="125"/></clipPath>
<g clip-path="url(#pc1)">
<rect x="1857" y="119" width="4" height="1" fill="#555555"/>
<text x="1865" y="123.5" font-size="12" fill="#555" font-weight="normal" text-anchor="start" >1.44000</text>
<rect x="1857" y="156" width="4" height="1" fill="#555555"/>
<text x="1865" y="161.5" font-size="12" fill="#555" font-weight="normal" text-anchor="start" >1.42000</text>
<rect x="1857" y="194" width="4" height="1" fill="#555555"/>
<text x="1865" y="199.5" font-size="12" fill="#555" font-weight="normal" text-anchor="start" >1.40000</text>
<rect x="1857" y="233" width="4" height="1" fill="#555555"/>
<text x="1865" y="238.5" font-size="12" fill="#555" font-weight="normal" text-anchor="start" >1.38000</text>
<rect x="1857" y="272" width="4" height="1" fill="#555555"/>
<text x="1865" y="277.5" font-size="12" fill="#555" font-weight="normal" text-anchor="start" >1.36000</text>
<rect x="1857" y="394" width="4" height="1" fill="#555555"/>
<text x="1865" y="398.5" font-size="12" fill="#555" font-weight="normal" text-anchor="start" >1.30000</text>
<rect x="1857" y="437" width="4" height="1" fill="#555555"/>
<text x="1865" y="441.5" font-size="12" fill="#555" font-weight="normal" text-anchor="start" >1.28000</text>
<rect x="1857" y="478" width="4" height="1" fill="#555555"/>
<text x="1865" y="482.5" font-size="12" fill="#555" font-weight="normal" text-anchor="start" >1.26000</text>
<rect x="1857" y="510" width="4" height="1" fill="#555555"/>
<text x="1865" y="515.5" font-size="12" fill="#555" font-weight="normal" text-anchor="start" >1.24500</text>
<rect x="1857" y="543" width="4" height="1" fill="#555555"/>
<text x="1865" y="547.5" font-size="12" fill="#555" font-weight="normal" text-anchor="start" >1.23000</text>
<rect x="1857" y="608" width="4" height="1" fill="#555555"/>
<text x="1865" y="612.5" font-size="12" fill="#555" font-weight="normal" text-anchor="start" >1.20100</text>
<rect x="1857" y="640" width="4" height="1" fill="#555555"/>
<text x="1865" y="645.5" font-size="12" fill="#555" font-weight="normal" text-anchor="start" >1.18700</text>
</g>
<g clip-path="url(#pc2)">
<rect x="1857" y="681" width="4" height="1" fill="#555555"/>
<text x="1865" y="685.5" font-size="12" fill="#555" font-weight="normal" text-anchor="start" >60.0000</text>
<rect x="1857" y="741" width="4" height="1" fill="#555555"/>
<text x="1865" y="745.5" font-size="12" fill="#555" font-weight="normal" text-anchor="start" >40.0000</text>
</g>
<g clip-path="url(#pc3)">
<rect x="1857" y="780" width="4" height="1" fill="#555555"/>
<text x="1865" y="784.5" font-size="12" fill="#555" font-weight="normal" text-anchor="start" >0.0200</text>
<rect x="1857" y="818" width="4" height="1" fill="#555555"/>
<text x="1865" y="822.5" font-size="12" fill="#555" font-weight="normal" text-anchor="start" >0.0000</text>
<rect x="1857" y="855" width="4" height="1" fill="#555555"/>
<text x="1864" y="859.5" font-size="12" fill="#555" font-weight="normal" text-anchor="start" >-0.0200</text>
<rect x="1857" y="892" width="4" height="1" fill="#555555"/>
<text x="1864" y="896.5" font-size="12" fill="#555" font-weight="normal" text-anchor="start" >-0.0400</text>
</g>
<rect x="1856" y="158" width="56" height="17" fill="#4f4f4f"/><rect x="1857" y="167" width="4" height="1" fill="#fff"/><text x="1864.5" y="171" font-size="12" fill="#fff" font-weight="bold" text-anchor="start" textLength="42.5" lengthAdjust="spacingAndGlyphs" >1.41475</text>
<rect x="1856" y="308" width="56" height="17" fill="#2b2b2b"/><rect x="1857" y="317" width="4" height="1" fill="#fff"/><text x="1864.5" y="321" font-size="12" fill="#fff" font-weight="bold" text-anchor="start" textLength="42.5" lengthAdjust="spacingAndGlyphs" >1.32738</text>
<rect x="1856" y="343" width="56" height="17" fill="#10c095"/><rect x="1857" y="352" width="4" height="1" fill="#fff"/><text x="1864.5" y="356" font-size="12" fill="#fff" font-weight="bold" text-anchor="start" textLength="42.5" lengthAdjust="spacingAndGlyphs" >1.32123</text>
<rect x="1856" y="454" width="56" height="17" fill="#000"/><rect x="1857" y="463" width="4" height="1" fill="#fff"/><text x="1864.5" y="467" font-size="12" fill="#fff" font-weight="bold" text-anchor="start" textLength="42.5" lengthAdjust="spacingAndGlyphs" >1.26885</text>
<rect x="1856" y="568" width="56" height="18" fill="#83cbdc"/><rect x="1857" y="578" width="4" height="1" fill="#2a2a2a"/><text x="1864.5" y="582" font-size="12" fill="#2a2a2a" font-weight="normal" text-anchor="start" textLength="42.5" lengthAdjust="spacingAndGlyphs" >1.21500</text>
<rect x="1856" y="586" width="56" height="17" fill="#000"/><rect x="1857" y="595" width="4" height="1" fill="#fff"/><text x="1864.5" y="599" font-size="12" fill="#fff" font-weight="bold" text-anchor="start" textLength="42.5" lengthAdjust="spacingAndGlyphs" >1.21165</text>
<rect x="139" y="906" width="1" height="3" fill="#555555" shape-rendering="crispEdges"/>
<text x="139" y="922" font-size="12" fill="#444" font-weight="bold" text-anchor="middle" >2017</text>
<rect x="254" y="906" width="1" height="3" fill="#555555" shape-rendering="crispEdges"/>
<text x="255" y="922" font-size="12" fill="#555" font-weight="normal" text-anchor="middle" >Feb</text>
<rect x="348" y="906" width="1" height="3" fill="#555555" shape-rendering="crispEdges"/>
<text x="348" y="922" font-size="12" fill="#555" font-weight="normal" text-anchor="middle" >Mar</text>
<rect x="441" y="906" width="1" height="3" fill="#555555" shape-rendering="crispEdges"/>
<text x="441" y="922" font-size="12" fill="#555" font-weight="normal" text-anchor="middle" >Abr</text>
<rect x="534" y="906" width="1" height="3" fill="#555555" shape-rendering="crispEdges"/>
<text x="534" y="922" font-size="12" fill="#555" font-weight="normal" text-anchor="middle" >May</text>
<rect x="650" y="906" width="1" height="3" fill="#555555" shape-rendering="crispEdges"/>
<text x="650" y="922" font-size="12" fill="#555" font-weight="normal" text-anchor="middle" >Jun</text>
<rect x="743" y="906" width="1" height="3" fill="#555555" shape-rendering="crispEdges"/>
<text x="743" y="922" font-size="12" fill="#555" font-weight="normal" text-anchor="middle" >Jul</text>
<rect x="952" y="906" width="1" height="3" fill="#555555" shape-rendering="crispEdges"/>
<text x="953" y="922" font-size="12" fill="#555" font-weight="normal" text-anchor="middle" >Sep</text>
<rect x="1045" y="906" width="1" height="3" fill="#555555" shape-rendering="crispEdges"/>
<text x="1045" y="922" font-size="12" fill="#555" font-weight="normal" text-anchor="middle" >Oct</text>
<rect x="1138" y="906" width="1" height="3" fill="#555555" shape-rendering="crispEdges"/>
<text x="1138" y="922" font-size="12" fill="#555" font-weight="normal" text-anchor="middle" >30</text>
<rect x="1255" y="906" width="1" height="3" fill="#555555" shape-rendering="crispEdges"/>
<text x="1255" y="922" font-size="12" fill="#555" font-weight="normal" text-anchor="middle" >Dic</text>
<rect x="1348" y="906" width="1" height="3" fill="#555555" shape-rendering="crispEdges"/>
<text x="1348" y="922" font-size="12" fill="#444" font-weight="bold" text-anchor="middle" >2018</text>
<rect x="1464" y="906" width="1" height="3" fill="#555555" shape-rendering="crispEdges"/>
<text x="1464" y="922" font-size="12" fill="#555" font-weight="normal" text-anchor="middle" >Feb</text>
<rect x="1557" y="906" width="1" height="3" fill="#555555" shape-rendering="crispEdges"/>
<text x="1557" y="922" font-size="12" fill="#555" font-weight="normal" text-anchor="middle" >Mar</text>
<rect x="1650" y="906" width="1" height="3" fill="#555555" shape-rendering="crispEdges"/>
<text x="1650" y="922" font-size="12" fill="#555" font-weight="normal" text-anchor="middle" >Abr</text>
<rect x="1766" y="906" width="1" height="3" fill="#555555" shape-rendering="crispEdges"/>
<text x="1766" y="922" font-size="12" fill="#555" font-weight="normal" text-anchor="middle" >May</text>
<rect x="823" y="906" width="70" height="21" fill="#4f4f4f"/>
<text x="859.5" y="921.5" font-size="12" fill="#fff" font-weight="bold" text-anchor="middle" textLength="60" lengthAdjust="spacingAndGlyphs" >07/08/2017</text>
<text x="78.1" y="943" font-size="12.5" fill="#8a8d92" font-weight="normal" text-anchor="start" textLength="32.3" lengthAdjust="spacingAndGlyphs" stroke="#8a8d92" stroke-width="0.25">5años</text>
<text x="139.9" y="943" font-size="12.5" fill="#8a8d92" font-weight="normal" text-anchor="start" textLength="26.5" lengthAdjust="spacingAndGlyphs" stroke="#8a8d92" stroke-width="0.25">1año</text>
<text x="195.8" y="943" font-size="12.5" fill="#8a8d92" font-weight="normal" text-anchor="start" textLength="17.2" lengthAdjust="spacingAndGlyphs" stroke="#8a8d92" stroke-width="0.25">6m</text>
<text x="242.0" y="943" font-size="12.5" fill="#8a8d92" font-weight="normal" text-anchor="start" textLength="17" lengthAdjust="spacingAndGlyphs" stroke="#8a8d92" stroke-width="0.25">3m</text>
<text x="288.0" y="943" font-size="12.5" fill="#8a8d92" font-weight="normal" text-anchor="start" textLength="17" lengthAdjust="spacingAndGlyphs" stroke="#8a8d92" stroke-width="0.25">1m</text>
<text x="334.1" y="943" font-size="12.5" fill="#8a8d92" font-weight="normal" text-anchor="start" textLength="13.8" lengthAdjust="spacingAndGlyphs" stroke="#8a8d92" stroke-width="0.25">5d</text>
<text x="377.0" y="943" font-size="12.5" fill="#8a8d92" font-weight="normal" text-anchor="start" textLength="13.8" lengthAdjust="spacingAndGlyphs" stroke="#8a8d92" stroke-width="0.25">1d</text>
<line x1="124.5" y1="931" x2="124.5" y2="948" stroke="#d3d6da" stroke-width="1"/>
<line x1="180.5" y1="931" x2="180.5" y2="948" stroke="#d3d6da" stroke-width="1"/>
<line x1="226.5" y1="931" x2="226.5" y2="948" stroke="#d3d6da" stroke-width="1"/>
<line x1="272.5" y1="931" x2="272.5" y2="948" stroke="#d3d6da" stroke-width="1"/>
<line x1="318.5" y1="931" x2="318.5" y2="948" stroke="#d3d6da" stroke-width="1"/>
<line x1="361.5" y1="931" x2="361.5" y2="948" stroke="#d3d6da" stroke-width="1"/>
<text x="1682.3" y="943" font-size="12.5" fill="#7c7f84" font-weight="bold" text-anchor="start" textLength="32" lengthAdjust="spacingAndGlyphs" >12:49</text>
<text x="1719.4" y="943" font-size="12.5" fill="#8a8d92" font-weight="normal" text-anchor="start" textLength="43" lengthAdjust="spacingAndGlyphs" >(UTC+1)</text>
<text x="1796" y="943" font-size="12.5" fill="#7c7f84" font-weight="normal" text-anchor="middle" >%</text>
<text x="1836.5" y="943" font-size="12.5" fill="#55bfe9" font-weight="bold" text-anchor="middle" >log</text>
<text x="1886" y="943" font-size="12.5" fill="#55bfe9" font-weight="bold" text-anchor="middle" >auto</text>
<line x1="1776.5" y1="931" x2="1776.5" y2="948" stroke="#d3d6da" stroke-width="1"/>
<line x1="1813.5" y1="931" x2="1813.5" y2="948" stroke="#d3d6da" stroke-width="1"/>
<line x1="1858.5" y1="931" x2="1858.5" y2="948" stroke="#d3d6da" stroke-width="1"/>
<g shape-rendering="crispEdges"><rect x="6.5" y="43.5" width="44" height="34" fill="#fff" stroke="#d0d4d9"/><rect x="7" y="44" width="33" height="33" fill="#edf2f8"/>
<line x1="40.5" y1="44" x2="40.5" y2="77" stroke="#9aa0a6" stroke-dasharray="1,1"/></g>
<path d="M24 52v6.5M24 63v6.5M15 60.5h6.5M26.5 60.5h6.5" stroke="#8ad2ee" stroke-width="1.6" fill="none"/>
<path d="M44 57.5l3.2 3 -3.2 3z" fill="#555"/>
<line x1="15.7" y1="109.4" x2="32.5" y2="92.6" stroke="#707070" stroke-width="1.2"/>
<path d="M31 94.2l-5.8 2 3.8 3.8z" fill="#707070"/>
<rect x="13.7" y="107.4" width="4" height="4" fill="#fff" stroke="#707070" stroke-width="1"/><rect x="30.5" y="90.6" width="4" height="4" fill="#fff" stroke="#707070" stroke-width="1"/>
<g stroke="#707070" stroke-width="1.2" fill="none"><path d="M11.3 155.7L21.2 145.7M15.7 139.7L26.4 150.4M15.7 139.7L24.3 131.5M21.2 145.7L29.8 137.3M26.4 150.4L35.8 142.4"/></g>
<rect x="19.4" y="143.89999999999998" width="3.6" height="3.6" fill="#fff" stroke="#707070" stroke-width="1"/>
<ellipse cx="23.6" cy="185.7" rx="14" ry="9.3" fill="none" stroke="#707070" stroke-width="1.2"/>
<rect x="21.8" y="174.6" width="3.6" height="3.6" fill="#fff" stroke="#707070" stroke-width="1"/>
<text x="12" y="234.5" font-size="19.5" fill="#666" font-weight="normal" text-anchor="start" textLength="23" lengthAdjust="spacingAndGlyphs" >Aa</text>
<path d="M13.6 280.8L17.9 259.6L24.5 268.3L31.1 259.6L34.5 276L24.5 268.3z" fill="none" stroke="#707070" stroke-width="1"/>
<rect x="11.9" y="279.1" width="3.4" height="3.4" fill="#fff" stroke="#707070" stroke-width="1"/><rect x="16.2" y="257.90000000000003" width="3.4" height="3.4" fill="#fff" stroke="#707070" stroke-width="1"/><rect x="22.8" y="266.6" width="3.4" height="3.4" fill="#fff" stroke="#707070" stroke-width="1"/><rect x="29.400000000000002" y="257.90000000000003" width="3.4" height="3.4" fill="#fff" stroke="#707070" stroke-width="1"/><rect x="32.8" y="274.3" width="3.4" height="3.4" fill="#fff" stroke="#707070" stroke-width="1"/>
<g stroke="#707070" stroke-width="1.3" fill="none"><path d="M12.5 299.6h21M12.5 312.1h21M12.5 319.8h21"/><path d="M23 302.5v15" stroke-width="1"/></g>
<path d="M23 301l2.6 3.6h-5.2zM23 318.6l2.6 -3.6h-5.2z" fill="#707070"/>
<path d="M23.6 346.6L16.9 353.5L23.6 360.4M17.600 353.500H30.200" fill="none" stroke="#707070" stroke-width="4.400" stroke-linecap="round" stroke-linejoin="round"/>
<line x1="6" y1="376.5" x2="51" y2="376.5" stroke="#d8d8d8" stroke-width="1" shape-rendering="crispEdges"/>
<line x1="6" y1="466.5" x2="51" y2="466.5" stroke="#d8d8d8" stroke-width="1" shape-rendering="crispEdges"/>
<line x1="6" y1="640.5" x2="51" y2="640.5" stroke="#d8d8d8" stroke-width="1" shape-rendering="crispEdges"/>
<circle cx="25.5" cy="399.8" r="7" fill="none" stroke="#707070" stroke-width="1.8"/><line x1="30.8" y1="405" x2="35.8" y2="410" stroke="#707070" stroke-width="2.6" stroke-linecap="round"/>
<path d="M22 399.8h7M25.5 396.3v7" stroke="#707070" stroke-width="1.1"/>
<path d="M15.7 435.5h5v11.5h19.5v5h-24.5z" fill="none" stroke="#707070" stroke-width="1.1"/>
<path d="M17 447l4 0M18 438h2.5M18 441h2.5M18 444h2.5M24 449.5v2M27 449.5v2M30 449.5v2M33 449.5v2M36 449.5v2" stroke="#707070" stroke-width="0.9"/>
<path d="M16.2 451.5l4.5 -4.5" stroke="#707070" stroke-width="1"/>
<rect x="27" y="434.5" width="2.8" height="8.5" fill="#707070"/><rect x="28" y="432" width="1" height="13.5" fill="#707070"/>
<rect x="32.3" y="436" width="2.8" height="7.5" fill="#707070"/><rect x="33.3" y="433.5" width="1" height="13" fill="#707070"/>
<path d="M18.9 499.8v-8.6a8.3 8.3 0 0 1 16.6 0v8.6h-5.3v-8.4a3 3 0 0 0 -6 0v8.4z" fill="#707070"/>
<rect x="20" y="495.3" width="3.2" height="3.4" fill="#fff"/><rect x="31.3" y="495.3" width="3.2" height="3.4" fill="#fff"/>
<g transform="translate(30,538.5) rotate(45)"><rect x="-2.8" y="-10" width="5.6" height="14" fill="#707070"/><path d="M-2.8 5h5.6l-2.8 5z" fill="#707070"/><rect x="-2.8" y="-13" width="5.6" height="2.2" fill="#707070"/></g>
<g transform="translate(24.5,536) rotate(45)" opacity="0.55"><rect x="-1.3" y="-11" width="2.6" height="17" fill="#707070"/><path d="M-1.3 7h2.6l-1.3 3.5z" fill="#707070"/></g>
<g transform="translate(21,534) rotate(45)" opacity="0.3"><rect x="-1" y="-10" width="2" height="15" fill="#707070"/><path d="M-1 6h2l-1 3z" fill="#707070"/></g>
<rect x="19.8" y="573.6" width="14.5" height="9.6" fill="#707070"/><path d="M22.3 574v-3a4.7 4.7 0 0 1 9.4 0v3" fill="none" stroke="#707070" stroke-width="2.2"/>
<path d="M18.5 616.4q9.4 -11 19 0q-9.6 11 -19 0z" fill="none" stroke="#707070" stroke-width="1.1"/><circle cx="27.9" cy="616" r="3" fill="none" stroke="#707070" stroke-width="1"/><line x1="20.8" y1="625.3" x2="36.4" y2="609.8" stroke="#707070" stroke-width="1.1"/>
<path d="M20 673l12 -12" stroke="#707070" stroke-width="2.6" stroke-linecap="butt"/><path d="M31 659.5a3.6 3.6 0 0 1 4.5 -2.5l-2.3 2.3 .8 1.7 1.7 .8 2.3 -2.3a3.6 3.6 0 0 1 -5 4z" fill="#707070"/>
<path d="M18 656.5l3.8 1 3.2 5.4 -1.6 1.6 -5.4 -3.2z" fill="#707070"/><path d="M23.5 662.5l11.5 10.5" stroke="#707070" stroke-width="2.2"/>
<rect x="21.1" y="699.3" width="14.2" height="2" fill="#707070"/><rect x="25.5" y="697.5" width="5.4" height="2" fill="#707070"/><path d="M22.2 702.6h12v11a1.4 1.4 0 0 1 -1.4 1.4h-9.2a1.4 1.4 0 0 1 -1.4 -1.4z" fill="#707070"/>
<rect x="57" y="476" width="6" height="28" fill="#fff" stroke="#d6d9de" stroke-width="1" shape-rendering="crispEdges"/><path d="M61 487.5l-3 2.5 3 2.5z" fill="#aaa"/>
<g shape-rendering="crispEdges"><line x1="108.5" y1="43" x2="108.5" y2="73" stroke="#c9ccd1"/><line x1="131.5" y1="43" x2="131.5" y2="73" stroke="#aaa" stroke-dasharray="1,1"/>
<line x1="207.5" y1="43" x2="207.5" y2="73" stroke="#c9ccd1"/>
<line x1="329.5" y1="43" x2="329.5" y2="73" stroke="#c9ccd1"/>
<line x1="356.5" y1="43" x2="356.5" y2="73" stroke="#c9ccd1"/>
<line x1="418.5" y1="43" x2="418.5" y2="73" stroke="#c9ccd1"/>
<line x1="1858.5" y1="43" x2="1858.5" y2="73" stroke="#c9ccd1"/>
</g>
<text x="86.2" y="62.5" font-size="12.5" fill="#444" font-weight="normal" text-anchor="middle" textLength="16.5" lengthAdjust="spacingAndGlyphs" stroke="#444" stroke-width="0.45">1W</text>
<rect x="118.600" y="50.2" width="3.600" height="3.600" rx="1" fill="#757575"/>
<rect x="118.600" y="56.7" width="3.600" height="3.600" rx="1" fill="#757575"/>
<rect x="118.600" y="63.4" width="3.600" height="3.600" rx="1" fill="#757575"/>
<path d="M138.25 56 h9.5 l-4.75 5z" fill="#757575"/>
<g shape-rendering="crispEdges"><rect x="179" y="48" width="1" height="21" fill="#757575"/><rect x="177.5" y="54.5" width="4" height="10" fill="#fff" stroke="#757575"/><rect x="187" y="47" width="1" height="22" fill="#757575"/><rect x="185" y="51" width="5" height="13" fill="#757575"/></g>
<path d="M212.95 56 h9.5 l-4.75 5z" fill="#757575"/>
<path d="M265.77 57.05 L265.77 60.15 L263.51 60.19 L262.70 62.15 L264.26 63.78 L262.08 65.96 L260.45 64.40 L258.49 65.21 L258.45 67.47 L255.35 67.47 L255.31 65.21 L253.35 64.40 L251.72 65.96 L249.54 63.78 L251.10 62.15 L250.29 60.19 L248.03 60.15 L248.03 57.05 L250.29 57.01 L251.10 55.05 L249.54 53.42 L251.72 51.24 L253.35 52.80 L255.31 51.99 L255.35 49.73 L258.45 49.73 L258.49 51.99 L260.45 52.80 L262.08 51.24 L264.26 53.42 L262.70 55.05 L263.51 57.01Z M260.5 58.6 a3.6 3.6 0 1 0 -7.2 0 a3.6 3.6 0 1 0 7.2 0Z" fill="#757575" fill-rule="evenodd"/>
<g fill="#757575"><rect x="297" y="62" width="2" height="5"/><rect x="300.5" y="60" width="2" height="7"/><rect x="304" y="62" width="2" height="5"/><rect x="307.5" y="58" width="2" height="9"/><rect x="311" y="60" width="2" height="7"/><rect x="314.5" y="56" width="2" height="11"/></g>
<path d="M297 58.5l4.5 -4.5 4 3 5 -5.5 2 2 3.2 -3.5" fill="none" stroke="#757575" stroke-width="1.3"/>
<g fill="#757575"><rect x="339.5" y="49.5" width="7.5" height="1.3"/><rect x="339.5" y="52" width="7.5" height="1.3"/><path d="M339.5 54.5h7.5v5h4l-7.75 8 -7.75 -8h4z"/></g>
<path d="M362.5 51.5h13l3 3v12.5h-16z" fill="none" stroke="#8a8a8a" stroke-width="1.1"/><rect x="366" y="51.5" width="8" height="5.5" fill="none" stroke="#8a8a8a" stroke-width="1"/><rect x="371" y="52.8" width="1.6" height="3" fill="#8a8a8a"/>
<path d="M397 57.5l7.5 -5.5v3.5c6 0 8.5 4 8.5 8.500c-1.500 -3 -4 -4.200 -8.500 -4.200v3.500z" fill="#757575"/>
<path d="M440.500 57.500l-7.500 -5.500v3.500c-6 0 -8.500 4 -8.500 8.500c1.500 -3 4 -4.200 8.500 -4.200v3.500z" fill="#b5b5b5"/>
<g shape-rendering="crispEdges"><rect x="63.5" y="75.500" width="28" height="5" fill="#fff" stroke="#d0d4d9"/></g><path d="M74.500 79l3 -2.500 3 2.500z" fill="#c5c5c5"/>
<g transform="translate(1771.800,57.800) scale(1.090,1.140) translate(-1771.500,-58.250)"><path d="M1762.500 52.500h3.500l1.500 -2.500h7l1.500 2.500h3.500a1.500 1.500 0 0 1 1.500 1.500v10a1.500 1.500 0 0 1 -1.500 1.500h-17a1.500 1.500 0 0 1 -1.500 -1.500v-10a1.500 1.500 0 0 1 1.500 -1.500z" fill="#757575"/><circle cx="1771.500" cy="59" r="4" fill="#fff"/><circle cx="1771.500" cy="59" r="2.200" fill="#757575"/></g>
<g transform="translate(1830.500,57.700) scale(1.080,1.150) translate(-1830.200,-58.500)">
<path d="M1823 66.5h-2.500a4.600 4.600 0 0 1 -.800 -9.100a6 6 0 0 1 11 -3a5.200 5.200 0 0 1 7.800 4a4.200 4.200 0 0 1 -.500 8.100h-2.500" fill="none" stroke="#8a8a8a" stroke-width="1.200"/>
<path d="M1828.300 57.500h4v4h3l-5 5.500 -5 -5.500h3z" fill="#fff" stroke="#8a8a8a" stroke-width="1"/></g>
<g transform="translate(1886.500,57.700) scale(1.080,1.150) translate(-1886.200,-58.500)">
<path d="M1879 66.5h-2.500a4.600 4.600 0 0 1 -.800 -9.100a6 6 0 0 1 11 -3a5.200 5.200 0 0 1 7.800 4a4.200 4.200 0 0 1 -.500 8.100h-2.500" fill="none" stroke="#8a8a8a" stroke-width="1.200"/>
<path d="M1884.500 67v-5h-3l5 -5.500 5 5.500h-3v5z" fill="#8a8a8a"/></g>
</svg></body></html>
